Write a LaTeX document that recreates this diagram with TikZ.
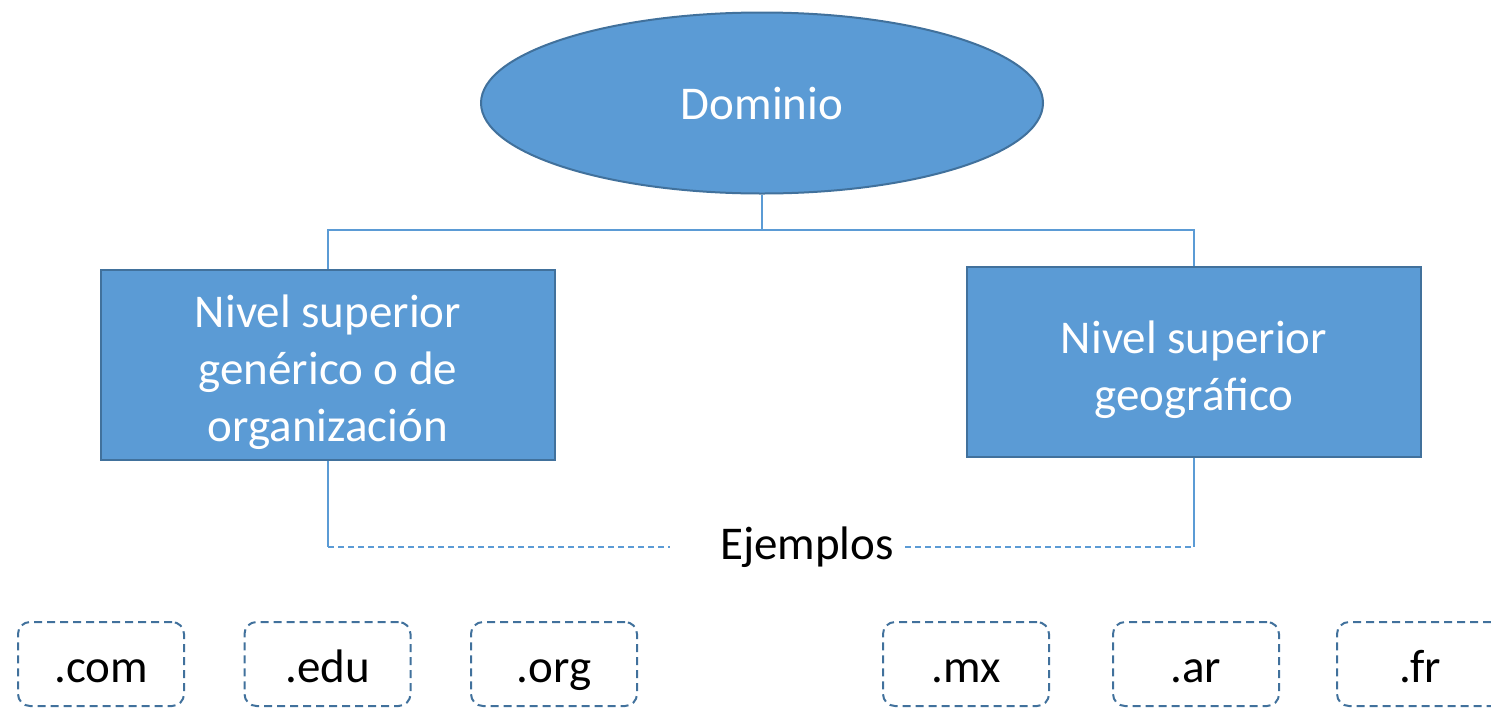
\documentclass[tikz,border=0pt]{standalone}
\usepackage{fontspec}
\setmainfont{Carlito}
\usetikzlibrary{shapes.geometric}
\definecolor{boxfill}{HTML}{5B9BD5}
\definecolor{boxline}{HTML}{41719C}
\newcommand{\nivstrut}{\rule{0pt}{24pt}}
\tikzset{
  bigfont/.style={font=\fontsize{23.5pt}{28.5pt}\selectfont},
  dombox/.style={ellipse, fill=boxfill, draw=boxline, line width=1pt,
    minimum width=281pt, minimum height=90.5pt, inner sep=0pt, text=white, bigfont},
  nivbox/.style={rectangle, fill=boxfill, draw=boxline, line width=1pt,
    minimum width=227pt, minimum height=95pt, align=center, text=white, bigfont},
  tldbox/.style={rectangle, rounded corners=6pt, draw=boxline, line width=1pt,
    dash pattern=on 4pt off 2.5pt, minimum width=83pt, minimum height=42pt,
    text height=20pt, text depth=2pt, bigfont},
  link/.style={draw=boxfill, line width=0.75pt},
  dlink/.style={link, dash pattern=on 3pt off 2pt},
}
\begin{document}
\begin{tikzpicture}[x=0.5pt, y=-0.5pt]
  \useasboundingbox (0,0) rectangle (1491,707);

  \node[dombox] (dom) at (762,103) {Dominio};
  \node[nivbox] (gen) at (328,365) {\nivstrut Nivel superior\\gen\'erico o de\\organizaci\'on};
  \node[nivbox] (geo) at (1194,362) {\nivstrut Nivel superior\\geogr\'afico};
  \node[bigfont] (ej) at (807,547) {Ejemplos};

  % dominio -> niveles
  \coordinate (split) at (762,230);
  \draw[link] (dom.south) -- (split);
  \draw[link] (split) -| (gen.north);
  \draw[link] (split) -| (geo.north);

  % niveles -> ejemplos
  \coordinate (lc) at (328,547);
  \coordinate (rc) at (1194,547);
  \coordinate (ejl) at (670,547);
  \coordinate (ejr) at (905,547);
  \draw[link] (gen.south) -- (lc);
  \draw[dlink] (lc) -- (ejl);
  \draw[link] (geo.south) -- (rc);
  \draw[dlink] (ejr) -- (rc);

  % dominios de ejemplo
  \foreach \cx/\tld/\nm in {101/.com/com, 327.5/.edu/edu, 554/.org/org,
                            966/.mx/mx, 1196/.ar/ar, 1420/.fr/fr}
    \node[tldbox] (\nm) at (\cx,664) {\tld};
\end{tikzpicture}
\end{document}
